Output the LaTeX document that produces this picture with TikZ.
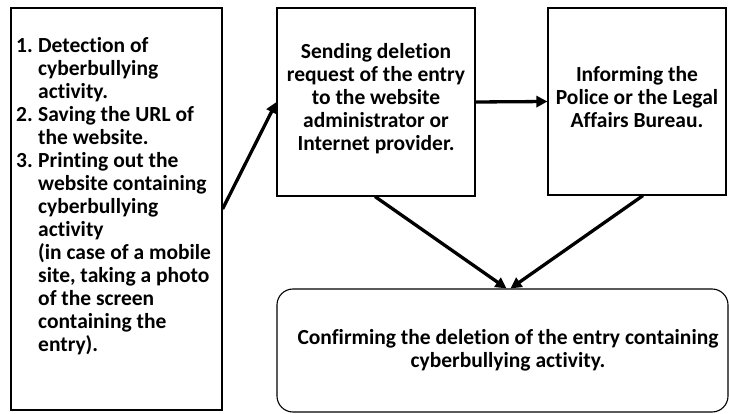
\documentclass[tikz,border=0pt]{standalone}
\usepackage{fontspec}
\setmainfont{Carlito}[Ligatures={NoCommon}]
\usetikzlibrary{arrows.meta}
\begin{document}
\begin{tikzpicture}[x=1pt,y=-1pt,
  boxstyle/.style={draw=black,line width=1.1pt,rectangle,inner sep=0pt},
  txt/.style={font=\bfseries\fontsize{21.5}{23}\selectfont,align=center,inner sep=0pt},
  arr/.style={line width=3.3pt,-{Triangle[length=11pt,width=11pt]}}
]
\useasboundingbox (0,0) rectangle (729,414);
\node[boxstyle,minimum width=211pt,minimum height=402pt] (left) at (116.5,209) {};
\node[txt,align=left,anchor=north west] (lefttext) at (16,37) {%
\makebox[22pt][l]{1.}Detection of\\
\hspace*{22pt}cyberbullying\\
\hspace*{22pt}activity.\\
\makebox[22pt][l]{2.}Saving the URL of\\
\hspace*{22pt}the website.\\
\makebox[22pt][l]{3.}Printing out the\\
\hspace*{22pt}website containing\\
\hspace*{22pt}cyberbullying\\
\hspace*{22pt}activity\\
\hspace*{22pt}(in case of a mobile\\
\hspace*{22pt}site, taking a photo\\
\hspace*{22pt}of the screen\\
\hspace*{22pt}containing the\\
\hspace*{22pt}entry).};
\node[boxstyle,minimum width=198pt,minimum height=188pt] (mid) at (376,102) {};
\node[txt] (midtext) at (376,99) {Sending deletion\\request of the entry\\to the website\\administrator or\\Internet provider.};
\node[boxstyle,minimum width=178pt,minimum height=187pt] (right) at (637,101.5) {};
\node[txt] (righttext) at (637,97) {Informing the\\Police or the Legal\\Affairs Bureau.};
\node[boxstyle,rounded corners=16pt,minimum width=451pt,minimum height=123pt] (bot) at (502.5,350.5) {};
\node[txt] (bottext) at (508,350) {Confirming the deletion of the entry containing\\cyberbullying activity.};
\draw[arr] (left.east) -- (mid.west);
\draw[arr] (mid.east) -- (right.west);
\draw[arr] ([xshift=-1pt]mid.south) -- ([xshift=4pt]bot.north);
\draw[arr] ([xshift=6pt]right.south) -- ([xshift=8pt]bot.north);
\end{tikzpicture}
\end{document}
